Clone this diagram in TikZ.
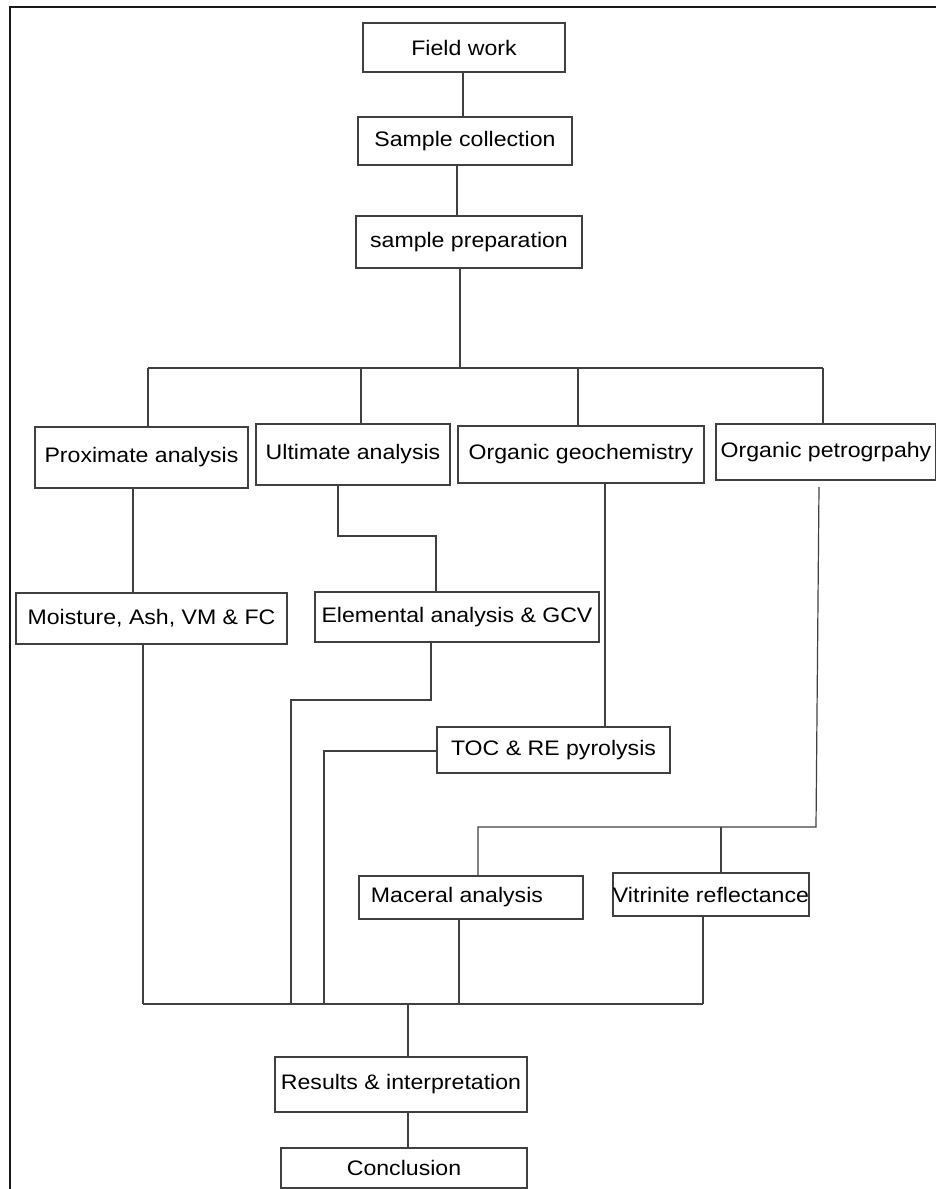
\documentclass[tikz,border=0pt]{standalone}
\usepackage{fontspec}
\setmainfont{Liberation Sans}[FakeStretch=1.1]
\begin{document}
\begin{tikzpicture}[x=1pt,y=-1pt,
  box/.style={draw=black!75, line width=1.3pt, fill=white, inner sep=0pt,
    font=\fontsize{21}{25}\selectfont, text=black},
  conn/.style={draw=black!75, line width=1.2pt},
  frame/.style={draw=black!90, line width=2.4pt}]
\useasboundingbox (0,0) rectangle (936,1189);
% frame
\draw[frame] (10,1195) -- (10,7) -- (940,7);

% nodes
\node[box, minimum width=202, minimum height=49] (fw) at (464,47.5) {Field work};
\node[box, minimum width=214, minimum height=48] (sc) at (465,141) {Sample collection};
\node[box, minimum width=226, minimum height=52] (sp) at (469,242) {sample preparation};
\node[box, minimum width=213, minimum height=61] (prox) at (141.5,457.5) {Proximate analysis};
\node[box, minimum width=194, minimum height=61] (ult) at (353,454.5) {Ultimate analysis};
\node[box, minimum width=246, minimum height=57] (og) at (581,454.5) {Organic geochemistry};
\node[box, minimum width=220, minimum height=56] (op) at (826,452) {Organic petrogrpahy};
\node[box, minimum width=271, minimum height=51] (moist) at (151.5,618.5) {Moisture, Ash, VM \& FC};
\node[box, minimum width=284, minimum height=50] (elem) at (457,617) {Elemental analysis \& GCV};
\node[box, minimum width=233, minimum height=46] (toc) at (553.5,750) {TOC \& RE pyrolysis};
\node[box, minimum width=224, minimum height=43] (mac) at (471,897.5) {\hspace*{-28pt}Maceral analysis};
\node[box, minimum width=192, minimum height=43] (vit) at (711,894.5) {Vitrinite reflectance};
\node[box, minimum width=252, minimum height=55] (res) at (401,1084.5) {Results \& interpretation};
\node[box, minimum width=246, minimum height=40] (con) at (404,1168) {\raisebox{-4pt}{Conclusion}};

% coordinates
\coordinate (busT) at (460,368);
\coordinate (bA) at (148,368);
\coordinate (bB) at (361,368);
\coordinate (bC) at (578,368);
\coordinate (bD) at (823,368);
\coordinate (u1) at (338,536);
\coordinate (u2) at (436,536);
\coordinate (e1) at (431,700);
\coordinate (e2) at (291,700);
\coordinate (t1) at (324,751);
\coordinate (p1) at (819,487);
\coordinate (p2) at (816,827);
\coordinate (m1) at (478,827);
\coordinate (v1) at (721,827);
\coordinate (lA) at (143,1004);
\coordinate (lB) at (291,1004);
\coordinate (lC) at (324,1004);
\coordinate (lD) at (459,1004);
\coordinate (lE) at (703,1004);
\coordinate (lR) at (408,1004);

% connectors
\draw[conn] (fw.south -| 463,0) -- (sc.north -| 463,0);
\draw[conn] (sc.south -| 457,0) -- (sp.north -| 457,0);
\draw[conn] (sp.south -| busT) -- (busT);
\draw[conn] (bA) -- (bD);
\draw[conn] (bA) -- (prox.north -| bA);
\draw[conn] (bB) -- (ult.north -| bB);
\draw[conn] (bC) -- (og.north -| bC);
\draw[conn] (bD) -- (op.north -| bD);

\draw[conn] (prox.south -| 133,0) -- (moist.north -| 133,0);
\draw[conn] (ult.south -| u1) -- (u1) -- (u2) -- (elem.north -| u2);
\draw[conn] (og.south -| 605,0) -- (toc.north -| 605,0);
\draw[conn] (p1) -- (p2) -- (m1) -- (mac.north -| m1);
\draw[conn] (v1) -- (vit.north -| v1);

\draw[conn] (moist.south -| lA) -- (lA);
\draw[conn] (elem.south -| e1) -- (e1) -- (e2) -- (lB);
\draw[conn] (toc.west |- t1) -- (t1) -- (lC);
\draw[conn] (mac.south -| lD) -- (lD);
\draw[conn] (vit.south -| lE) -- (lE);
\draw[conn] (lA) -- (lE);
\draw[conn] (lR) -- (res.north -| lR);
\draw[conn] (res.south -| lR) -- (con.north -| lR);
\end{tikzpicture}
\end{document}
